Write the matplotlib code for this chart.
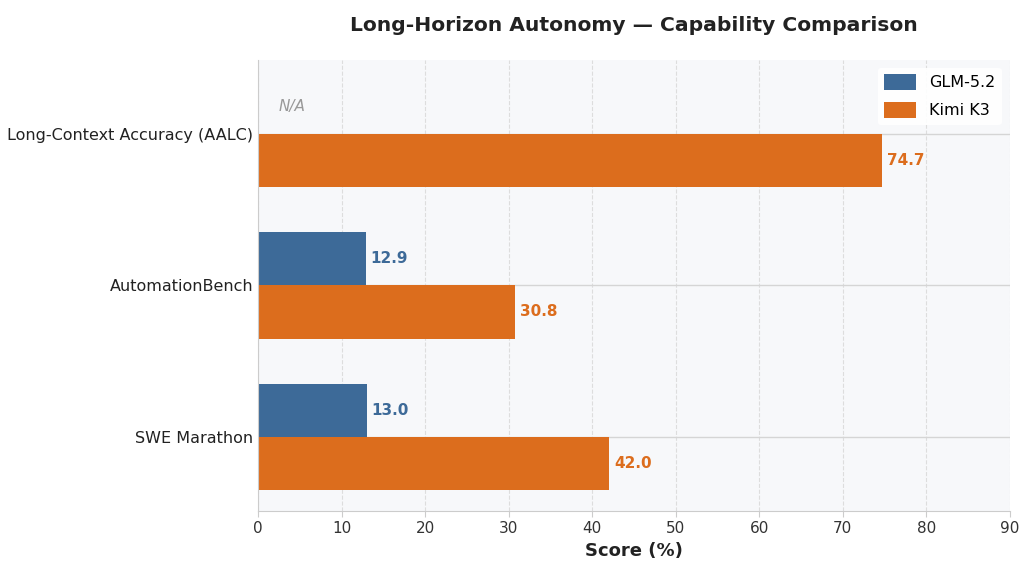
import numpy as np
import matplotlib
matplotlib.use("Agg")
import matplotlib.pyplot as plt

categories = ["Long-Context Accuracy (AALC)", "AutomationBench", "SWE Marathon"]
glm = [None, 12.9, 13.0]
kimi = [74.7, 30.8, 42.0]
series_names = ["GLM-5.2", "Kimi K3"]

blue = "#3d6a98"
orange = "#dc6d1d"

fig = plt.figure(figsize=(10.24, 5.76), dpi=100)
ax = fig.add_axes([0.252, 0.113, 0.734, 0.783])
ax.set_facecolor("#f7f8fa")

y = np.arange(len(categories))
h = 0.35
glm_vals = [v if v is not None else 0 for v in glm]
ax.barh(y - h/2, glm_vals, height=h, color=blue, label=series_names[0])
ax.barh(y + h/2, kimi, height=h, color=orange, label=series_names[1])

for i, v in enumerate(glm):
    if v is None:
        ax.text(2.5, y[i] - h/2, "N/A", va="center", ha="left", fontsize=11,
                style="italic", color="#999999")
    else:
        ax.text(v + 0.6, y[i] - h/2, f"{v:.1f}", va="center", ha="left",
                fontsize=11, fontweight="bold", color=blue)
for i, v in enumerate(kimi):
    ax.text(v + 0.6, y[i] + h/2, f"{v:.1f}", va="center", ha="left",
            fontsize=11, fontweight="bold", color=orange)

ax.set_yticks(y)
ax.set_yticklabels(categories, fontsize=11.5, color="#222222")
ax.invert_yaxis()
ax.set_xlim(0, 90)
ax.set_xticks(np.arange(0, 91, 10))
ax.tick_params(axis="x", labelsize=11, colors="#333333")
ax.tick_params(axis="both", length=0)
ax.tick_params(axis="x", length=4, color="#cccccc")

ax.grid(axis="x", linestyle="--", color="#dddddd", linewidth=0.8)
ax.grid(axis="y", linestyle="-", color="#d5d5d5", linewidth=1)
ax.set_axisbelow(True)

for s in ["top", "right"]:
    ax.spines[s].set_visible(False)
for s in ["left", "bottom"]:
    ax.spines[s].set_color("#cccccc")

ax.set_xlabel("Score (%)", fontsize=13, fontweight="bold", color="#222222")
ax.set_title("Long-Horizon Autonomy — Capability Comparison", fontsize=14.6,
             fontweight="bold", color="#222222", pad=21)
ax.legend(loc="upper right", fontsize=11.5, frameon=True, facecolor="white",
          edgecolor="none", framealpha=0.9, handleheight=1.1, labelspacing=0.75)

fig.savefig("out.png", dpi=100)
